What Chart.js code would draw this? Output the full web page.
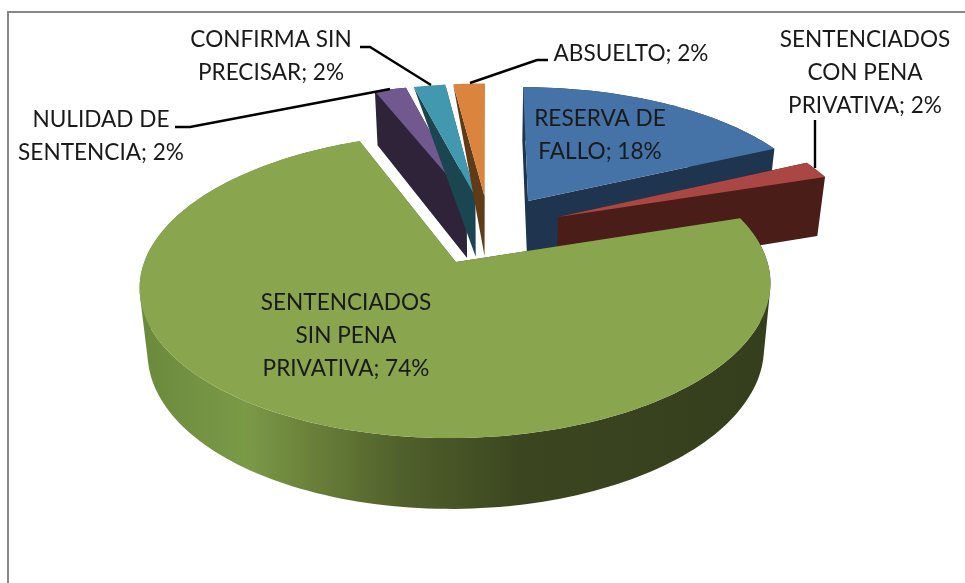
<!DOCTYPE html>
<html lang="es">
<head>
<meta charset="utf-8">
<title>Sentencias</title>
<script src="https://cdn.jsdelivr.net/npm/chart.js@4/dist/chart.umd.js"></script>
<style>
  html, body { margin: 0; padding: 0; background: #fff; }
  canvas { display: block; }
</style>
</head>
<body>
<canvas id="pie" width="965" height="583"></canvas>
<script>
const categories = ['RESERVA DE FALLO', 'SENTENCIADOS CON PENA PRIVATIVA', 'SENTENCIADOS SIN PENA PRIVATIVA',
  'NULIDAD DE SENTENCIA', 'CONFIRMA SIN PRECISAR', 'ABSUELTO'];
const values = [18, 2, 74, 2, 2, 2];
const topColors = ['#4572a7', '#aa4643', '#89a54e', '#71588f', '#4198af', '#db843d'];
const sideColors = ['#1f344f', '#4a1d19', '#363f1e', '#2e2339', '#1b4551', '#5f3b17'];
// the two slices at the back show only a thin wedge of wall
const wallTaper = [0, 0, 0, 0, 1, 1];

// text of each label, line by line, and where it sits
const labelLines = [
  ['RESERVA DE', 'FALLO; 18%'],
  ['SENTENCIADOS', 'CON PENA', 'PRIVATIVA; 2%'],
  ['SENTENCIADOS', 'SIN PENA', 'PRIVATIVA; 74%'],
  ['NULIDAD DE', 'SENTENCIA; 2%'],
  ['CONFIRMA SIN', 'PRECISAR; 2%'],
  ['ABSUELTO; 2%']
];
const labelX = [600, 865, 346, 101, 271, 631];
const labelY = [119, 40, 303, 120, 40, 54];
const leaders = [
  null,
  [[815, 120], [815, 168]],
  null,
  [[175, 127], [190, 127], [390, 89]],
  [[360, 47], [370, 47], [431, 85]],
  [[548, 60], [537, 60], [470, 83]]
];

// 3D view of the pie
const EXPLODE = 0.25;
const PERSPECTIVE = 0.15;
const WIDTH_R = 301;
const HEIGHT_R = 138.8;
const BOTTOM_SHRINK = 0.977;

class Arc3d extends Chart.ArcElement {
  static id = 'arc3d';

  draw(ctx) {
    const i = this.$context.index;
    const { x, y, startAngle, endAngle } = this;
    const r = this.outerRadius;
    const sx = WIDTH_R / r;
    const sy = HEIGHT_R / r;
    const mid = (startAngle + endAngle) / 2;
    const ox = EXPLODE * Math.cos(mid);
    const oy = EXPLODE * Math.sin(mid);

    // u,v are on the disc, in radii: v grows towards the viewer
    const top = (u, v) => {
      const s = 1 / (1 - PERSPECTIVE * v);
      return [x + u * r * sx * s, y + v * r * sy * s];
    };
    const low = (u, v, fromApex) => {
      const a = top(u, v);
      const s = 1 / (1 - PERSPECTIVE * v);
      const b = [x + u * r * sx * s * BOTTOM_SHRINK, y + v * r * sy * s + 62 + 7.2 * v];
      const t = 1 - wallTaper[i] * fromApex;
      return [a[0] + (b[0] - a[0]) * t, a[1] + (b[1] - a[1]) * t];
    };

    const arc = [];
    const steps = Math.max(4, Math.ceil((endAngle - startAngle) * 40));
    for (let k = 0; k <= steps; k++) {
      const a = startAngle + (endAngle - startAngle) * k / steps;
      arc.push([ox + Math.cos(a), oy + Math.sin(a)]);
    }
    const first = arc[0];
    const last = arc[arc.length - 1];

    // all wall pieces go in one path, wound the same way, so no seams show
    const addPoly = pts => {
      let area = 0;
      pts.forEach((p, k) => {
        const q = pts[(k + 1) % pts.length];
        area += p[0] * q[1] - q[0] * p[1];
      });
      const ordered = area < 0 ? pts.slice().reverse() : pts;
      ordered.forEach((p, k) => k ? ctx.lineTo(p[0], p[1]) : ctx.moveTo(p[0], p[1]));
      ctx.closePath();
    };

    let side = sideColors[i];
    if (categories[i] === 'SENTENCIADOS SIN PENA PRIVATIVA') {
      side = ctx.createLinearGradient(145, 0, 770, 0);
      side.addColorStop(0, '#6c8a3c');
      side.addColorStop(0.16, '#7b9a48');
      side.addColorStop(0.25, '#6d843b');
      side.addColorStop(0.41, '#50602b');
      side.addColorStop(0.6, '#3b4620');
      side.addColorStop(1, '#353e1d');
    }

    ctx.save();
    ctx.fillStyle = side;
    ctx.beginPath();
    addPoly([top(ox, oy), top(first[0], first[1]), low(first[0], first[1], 1), low(ox, oy, 0)]);
    addPoly([top(ox, oy), top(last[0], last[1]), low(last[0], last[1], 1), low(ox, oy, 0)]);
    for (let k = 0; k < arc.length - 1; k++) {
      const p = arc[k];
      const q = arc[k + 1];
      addPoly([top(p[0], p[1]), top(q[0], q[1]), low(q[0], q[1], 1), low(p[0], p[1], 1)]);
    }
    ctx.fill();

    ctx.fillStyle = this.options.backgroundColor;
    ctx.beginPath();
    addPoly([top(ox, oy)].concat(arc.map(p => top(p[0], p[1]))));
    ctx.fill();
    ctx.restore();
  }
}

class Pie3d extends Chart.PieController {
  static id = 'pie3d';
  static defaults = { dataElementType: 'arc3d' };
}

Chart.register(Arc3d, Pie3d);

const framePlugin = {
  id: 'frame',
  beforeDraw(chart) {
    const ctx = chart.ctx;
    ctx.save();
    ctx.fillStyle = '#fff';
    ctx.fillRect(0, 0, chart.width, chart.height);
    ctx.strokeStyle = '#868686';
    ctx.lineWidth = 2;
    ctx.beginPath();
    ctx.moveTo(8, chart.height);
    ctx.lineTo(8, 12);
    ctx.lineTo(chart.width, 12);
    ctx.stroke();
    ctx.restore();
  }
};

const labelsPlugin = {
  id: 'pieLabels',
  afterDatasetsDraw(chart) {
    const ctx = chart.ctx;
    ctx.save();
    ctx.strokeStyle = '#000';
    ctx.lineWidth = 2.4;
    leaders.forEach(line => {
      if (!line) return;
      ctx.beginPath();
      line.forEach((p, k) => k ? ctx.lineTo(p[0], p[1]) : ctx.moveTo(p[0], p[1]));
      ctx.stroke();
    });
    ctx.fillStyle = '#1a1a1a';
    ctx.font = '22.6px Lato';
    ctx.textAlign = 'center';
    ctx.textBaseline = 'middle';
    labelLines.forEach((lines, i) => {
      lines.forEach((text, k) => ctx.fillText(text, labelX[i], labelY[i] + k * 33));
    });
    ctx.restore();
  }
};

new Chart(document.getElementById('pie'), {
  type: 'pie3d',
  data: {
    labels: categories,
    datasets: [{ data: values, backgroundColor: topColors, borderWidth: 0 }]
  },
  options: {
    responsive: false,
    animation: false,
    layout: { padding: { left: 13, right: 0, top: 0, bottom: 124 } },
    plugins: { legend: { display: false }, tooltip: { enabled: false } }
  },
  plugins: [framePlugin, labelsPlugin]
});
</script>
</body>
</html>
